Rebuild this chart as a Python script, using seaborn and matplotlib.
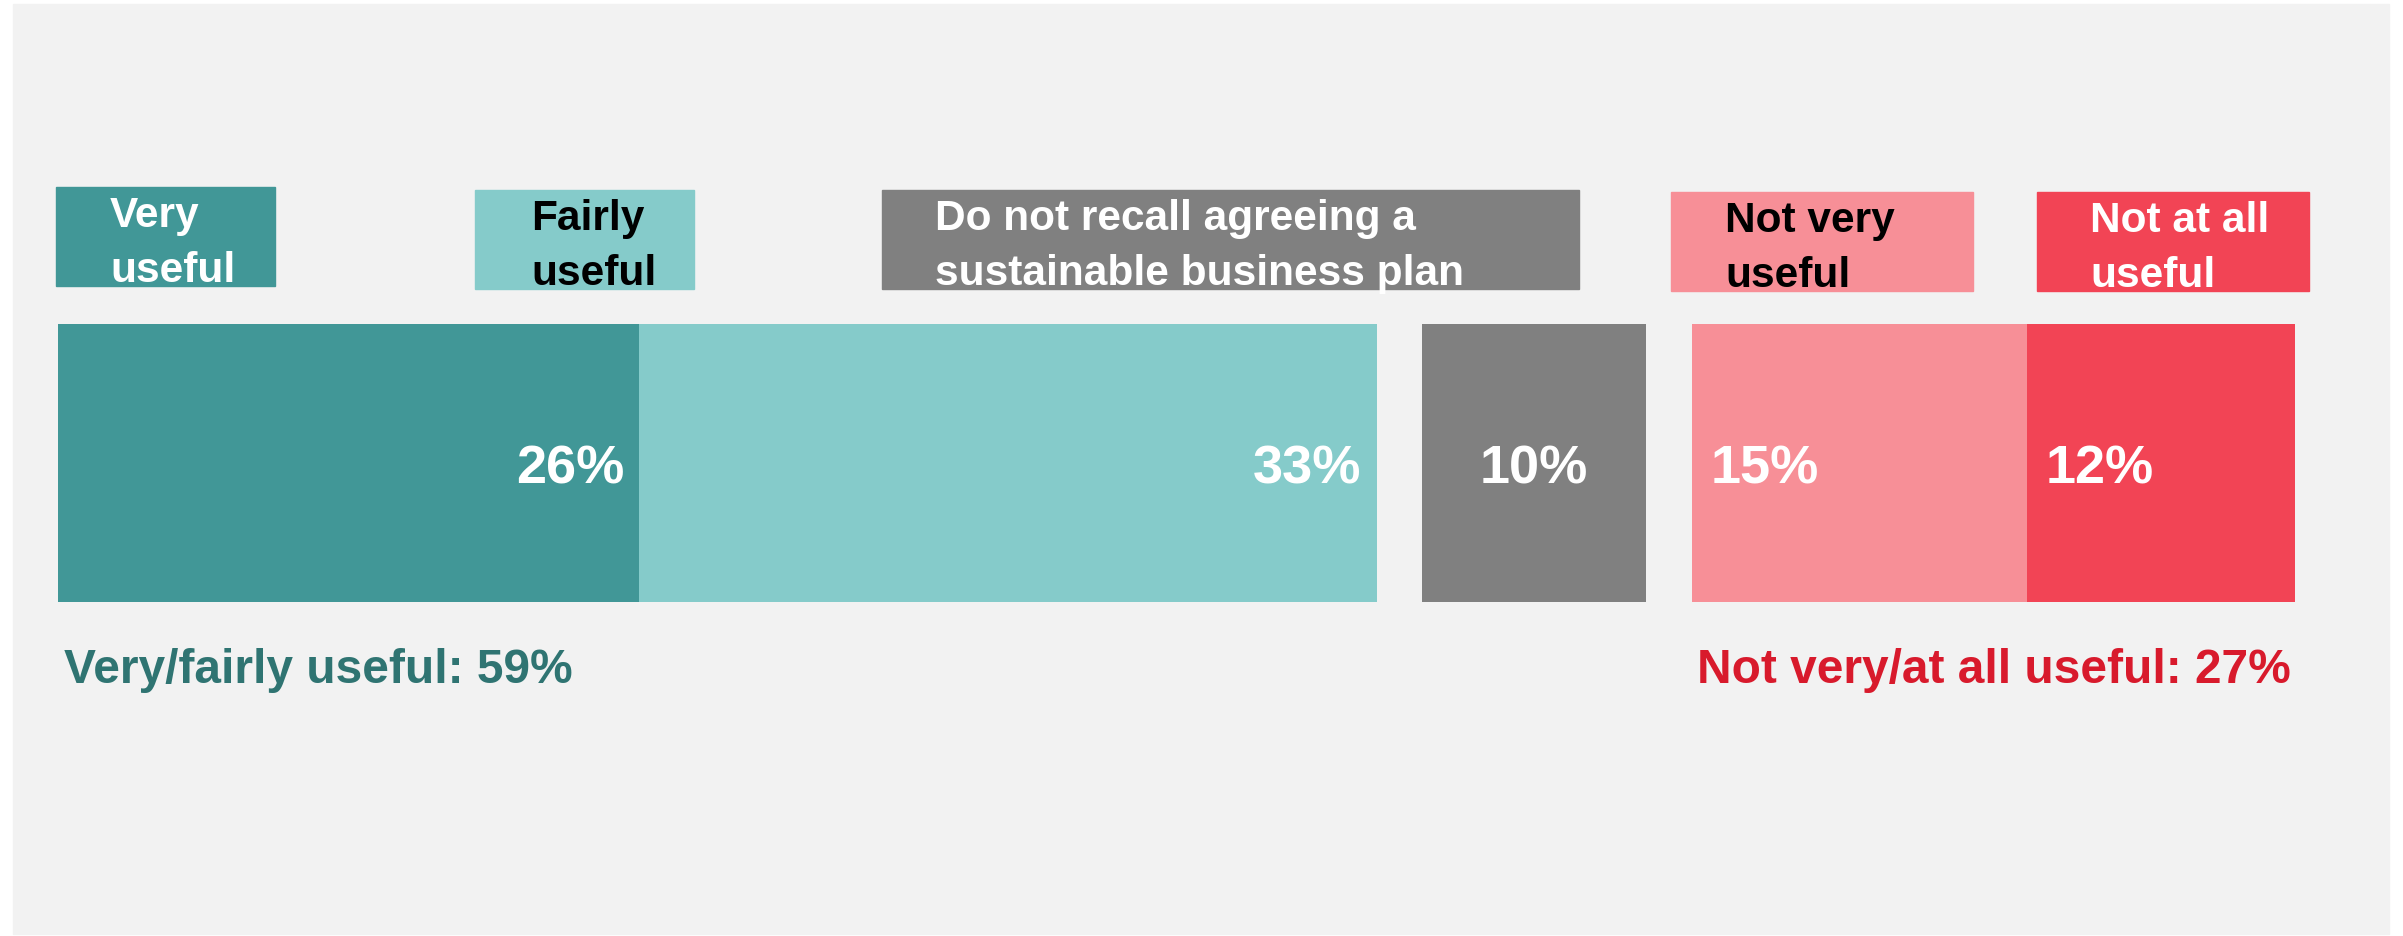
import matplotlib
matplotlib.use("Agg")
import matplotlib.pyplot as plt
import matplotlib.transforms as mtransforms
from matplotlib.patches import Rectangle
import seaborn as sns
import pandas as pd

# ---- data -------------------------------------------------------------
categories = ["Very useful", "Fairly useful",
              "Do not recall agreeing a sustainable business plan",
              "Not very useful", "Not at all useful"]
box_labels = ["Very\nuseful", "Fairly\nuseful",
              "Do not recall agreeing a\nsustainable business plan",
              "Not very\nuseful", "Not at all\nuseful"]
values = [26, 33, 10, 15, 12]
groups = ["useful", "useful", "recall", "not", "not"]
summary_names = {"useful": "Very/fairly useful", "not": "Not very/at all useful"}

# ---- style ------------------------------------------------------------
bar_colors = ["#419797", "#85CBCA", "#808080", "#F78F97", "#F24455"]
box_text_colors = ["white", "black", "white", "black", "white"]
value_align = ["right", "right", "center", "left", "left"]
summary_colors = {"useful": "#2F7472", "not": "#D81A2C"}
panel_color = "#F2F2F2"
group_gap = 2.05

sns.set_theme(style="white")
plt.rcParams["font.family"] = ["Liberation Sans", "DejaVu Sans"]

W, H = 2403, 937
fig = plt.figure(figsize=(W / 100, H / 100), dpi=100)
fig.patch.set_facecolor("white")


def fx(px):
    return px / W


def fy(py):
    return 1 - py / H


# light grey panel behind the chart
fig.patches.append(Rectangle((fx(13), fy(935)), fx(2389) - fx(13), fy(5) - fy(935),
                             transform=fig.transFigure, color=panel_color, zorder=-5))

ax = fig.add_axes([0, 0, 1, 1])
ax.patch.set_alpha(0)
ax.axis("off")

# one unit of share = 22.35 px, bar starts 58 px from the left
unit = 22.35
x0 = 58
ax.set_xlim(-x0 / unit, (W - x0) / unit)
# bar of height 1 centred at y=0, spanning 278 px around y=464 px
bar_px = 278
yc = 464
ax.set_ylim((H - yc) / bar_px, -yc / bar_px)

df = pd.DataFrame({"category": categories, "value": values, "group": groups})
lefts = []
pos = 0
prev = None
for g, v in zip(df["group"], df["value"]):
    if prev is not None and g != prev:
        pos += group_gap
    lefts.append(pos)
    pos += v
    prev = g
df["left"] = lefts

ax.barh(y=[0] * len(df), width=df["value"], left=df["left"], height=1,
        color=bar_colors, linewidth=0)

# value labels on the bars
for (_, row), ha in zip(df.iterrows(), value_align):
    if ha == "right":
        x, dx = row["left"] + row["value"], -15
    elif ha == "left":
        x, dx = row["left"], 19
    else:
        x, dx = row["left"] + row["value"] / 2, 0
    ax.annotate(f"{row['value']}%", xy=(x, 0), xytext=(dx, -6),
                textcoords="offset pixels", ha=ha, va="center",
                fontsize=39, fontweight="bold", color="white")

# category boxes above the bar
boxes = [(56, 188, 275, 287), (475, 191, 694, 290), (882, 191, 1579, 290),
         (1671, 193, 1973, 292), (2037, 193, 2309, 292)]
pads = [54, 56, 53, 54, 53]
for (l, t, r, b), p, lab, fc, tc in zip(boxes, pads, box_labels, bar_colors, box_text_colors):
    fig.patches.append(Rectangle((fx(l), fy(b)), fx(r) - fx(l), fy(t) - fy(b),
                                 transform=fig.transFigure, color=fc, zorder=1))
    fig.text(fx(l + p), fy((t + b) / 2 + 6), lab, ha="left", va="center",
             fontsize=30.5, fontweight="bold", color=tc, linespacing=1.5, zorder=2)

# group totals below the bar
blend = mtransforms.blended_transform_factory(ax.transData, fig.transFigure)
useful_total = df.loc[df["group"] == "useful", "value"].sum()
not_total = df.loc[df["group"] == "not", "value"].sum()
offset_left = mtransforms.offset_copy(blend, fig=fig, x=6, y=0, units="dots")
offset_right = mtransforms.offset_copy(blend, fig=fig, x=-4, y=0, units="dots")
ax.text(df["left"].iloc[0], fy(683), f"{summary_names['useful']}: {useful_total}%",
        transform=offset_left, ha="left", va="baseline", fontsize=34.5,
        fontweight="bold", color=summary_colors["useful"], zorder=3)
end = df["left"].iloc[-1] + df["value"].iloc[-1]
ax.text(end, fy(683), f"{summary_names['not']}: {not_total}%",
        transform=offset_right, ha="right", va="baseline", fontsize=34.5,
        fontweight="bold", color=summary_colors["not"], zorder=3)

fig.savefig("out.png", dpi=100, facecolor=fig.get_facecolor())
